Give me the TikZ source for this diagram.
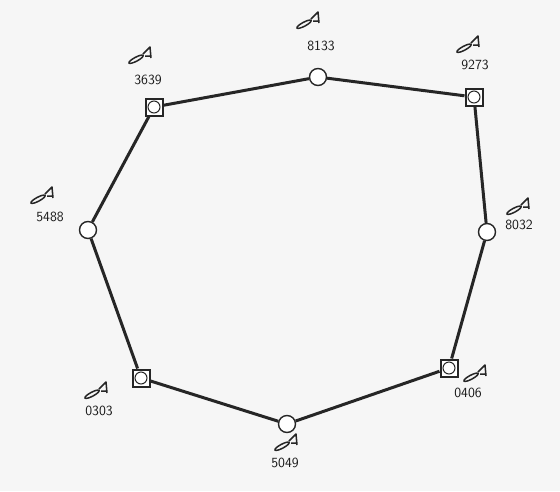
\documentclass[tikz,border=0pt]{standalone}
\begin{document}
\begin{tikzpicture}[x=1pt,y=-1pt,
  ink/.style={draw=black!85},
  edge/.style={ink,line width=3pt},
  circnode/.style={circle,ink,line width=1.4pt,fill=white,minimum size=17pt,inner sep=0pt},
  sqnode/.style={rectangle,ink,line width=2pt,fill=white,minimum size=17pt,inner sep=0pt},
  lbl/.style={font=\sffamily\fontsize{14}{16}\selectfont,text=black!90},
  mark/.pic={
    \draw[black!85,line width=1.5pt,rotate=28] (-9,0) ellipse (8pt and 2pt);
    \draw[black!85,line width=1.5pt,line join=round] (-1,-1) -- (6,-8) -- (7,3) (1,1) -- (7,1);
  }]
\useasboundingbox[fill=gray!7] (0,0) rectangle (560,491);
% nodes
\node[circnode] (n8133) at (318,77) {};
\node[sqnode] (n3639) at (154,107) {};
\node[sqnode] (n9273) at (474,97) {};
\node[circnode] (n5488) at (88,230) {};
\node[circnode] (n8032) at (487,232) {};
\node[sqnode] (n0303) at (141,378) {};
\node[sqnode] (n0406) at (449,368) {};
\node[circnode] (n5049) at (287,424) {};
% inner circles of squares
\foreach \n in {n3639,n9273,n0303,n0406}
  \draw[black!85,line width=1pt] (\n.center) circle (6pt);
% edges
\draw[edge] (n8133) -- (n9273);
\draw[edge] (n9273) -- (n8032);
\draw[edge] (n8032) -- (n0406);
\draw[edge] (n0406) -- (n5049);
\draw[edge] (n5049) -- (n0303);
\draw[edge] (n0303) -- (n5488);
\draw[edge] (n5488) -- (n3639);
\draw[edge] (n3639) -- (n8133);
% labels
\node[lbl] (t8133) at (321,46) {8133};
\node[lbl] (t3639) at (148,80) {3639};
\node[lbl] (t9273) at (475,65) {9273};
\node[lbl] (t5488) at (50,217) {5488};
\node[lbl] (t8032) at (519,225) {8032};
\node[lbl] (t0303) at (99,411) {0303};
\node[lbl] (t0406) at (468,393) {0406};
\node[lbl] (t5049) at (285,463) {5049};
% marks
\pic at (312,20) {mark};
\pic at (144,55) {mark};
\pic at (472,44) {mark};
\pic at (46,195) {mark};
\pic at (522,206) {mark};
\pic at (100,390) {mark};
\pic at (479,373) {mark};
\pic at (290,442) {mark};
\end{tikzpicture}
\end{document}
